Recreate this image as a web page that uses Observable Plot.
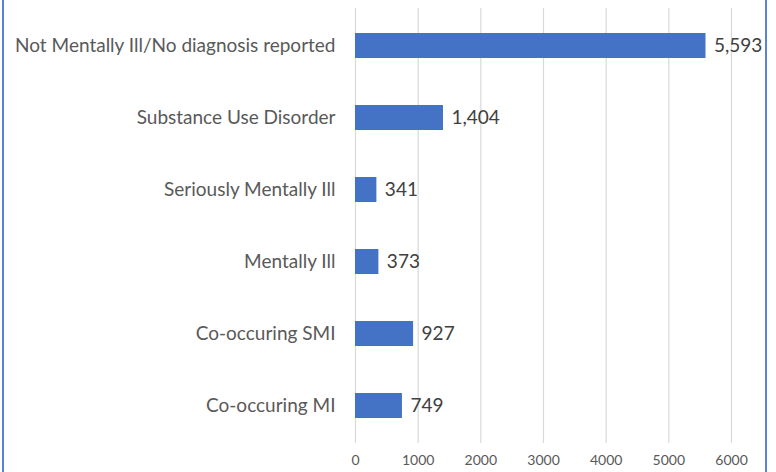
<!DOCTYPE html>
<html>
<head>
<meta charset="utf-8">
<script src="https://cdn.jsdelivr.net/npm/d3@7"></script>
<script src="https://cdn.jsdelivr.net/npm/@observablehq/plot@0.6"></script>
<style>
  html, body { margin: 0; padding: 0; background: #fff; }
  #wrap { position: relative; width: 776px; height: 472px; overflow: hidden; }
  #wrap::before { content: ""; position: absolute; left: 2px; top: 0; bottom: 0; width: 1.5px; background: #5a82d6; }
  #wrap::after { content: ""; position: absolute; left: 765px; top: 0; bottom: 0; width: 1.5px; background: #5a82d6; }
  svg { font-family: Lato, "Open Sans", sans-serif; }
</style>
</head>
<body>
<div id="wrap"></div>
<script>
const categories = [
  "Not Mentally Ill/No diagnosis reported",
  "Substance Use Disorder",
  "Seriously Mentally Ill",
  "Mentally Ill",
  "Co-occuring SMI",
  "Co-occuring MI"
];
const values = [5593, 1404, 341, 373, 927, 749];
const xTicks = [0, 1000, 2000, 3000, 4000, 5000, 6000];

const data = categories.map((c, i) => ({category: c, value: values[i]}));

const chart = Plot.plot({
  width: 776,
  height: 472,
  marginLeft: 355,
  marginRight: 45,
  marginTop: 8,
  marginBottom: 29,
  style: {fontFamily: "Lato, 'Open Sans', sans-serif", background: "transparent"},
  x: {domain: [0, 6000], ticks: xTicks, label: null},
  y: {domain: categories, label: null, paddingInner: 0.655, paddingOuter: 0.3275},
  marks: [
    Plot.gridX(xTicks, {stroke: "#d9d9d9", strokeOpacity: 1, strokeWidth: 1.2}),
    Plot.axisX({ticks: xTicks, tickSize: 0, tickPadding: 12, tickFormat: d => String(d), fontSize: 14, fill: "#595959", label: null}),
    Plot.axisY({tickSize: 0, tickPadding: 20, fontSize: 19, fill: "#595959", label: null}),
    Plot.barX(data, {x: "value", y: "category", fill: "#4472c4"}),
    Plot.text(data, {x: "value", y: "category", text: d => d3.format(",")(d.value), dx: 8, textAnchor: "start", fontSize: 19, fill: "#404040"})
  ]
});
document.getElementById("wrap").appendChild(chart);
</script>
</body>
</html>
